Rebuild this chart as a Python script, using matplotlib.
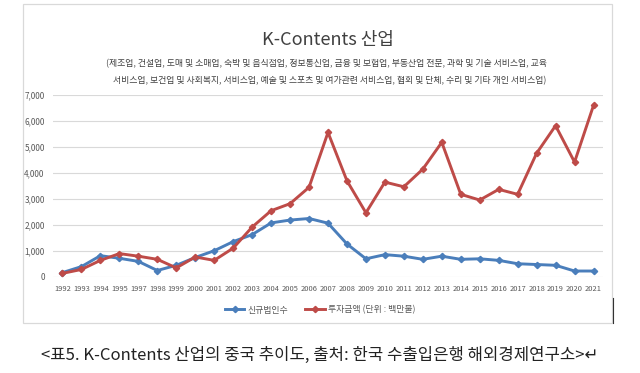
import matplotlib
matplotlib.use("Agg")
import matplotlib.pyplot as plt
from matplotlib.patches import Rectangle
from matplotlib.lines import Line2D
from matplotlib.ticker import FuncFormatter

plt.rcParams['font.family'] = ['Noto Sans CJK KR', 'DejaVu Sans']

years = ['1992', '1993', '1994', '1995', '1997', '1998', '1999', '2000', '2001', '2002',
         '2003', '2004', '2005', '2006', '2007', '2008', '2009', '2010', '2011', '2012',
         '2013', '2014', '2015', '2016', '2017', '2018', '2019', '2020', '2021']
new_corps = [170, 400, 820, 720, 600, 250, 450, 750, 1010, 1360,
             1630, 2080, 2190, 2250, 2070, 1270, 700, 860, 800, 680,
             800, 680, 700, 640, 510, 480, 450, 230, 230]
invest = [140, 290, 640, 900, 800, 680, 350, 770, 640, 1110,
          1920, 2550, 2820, 3450, 5560, 3700, 2470, 3650, 3470, 4150,
          5180, 3180, 2960, 3370, 3180, 4760, 5820, 4420, 6600]
series_names = ['신규법인수', '투자금액 (단위 : 백만불)']
title = 'K-Contents 산업'
subtitle1 = '(제조업, 건설업, 도매 및 소매업, 숙박 및 음식점업, 정보통신업, 금융 및 보험업, 부동산업 전문, 과학 및 기술 서비스업, 교육'
subtitle2 = '서비스업, 보건업 및 사회복지, 서비스업, 예술 및 스포츠 및 여가관련 서비스업, 협회 및 단체, 수리 및 기타 개인 서비스업)'
caption = '<표5. K-Contents 산업의 중국 추이도, 출처: 한국 수출입은행 해외경제연구소>'

W, H = 640, 373
fig = plt.figure(figsize=(W / 100, H / 100), dpi=100)
fig.patch.set_facecolor('white')

def fx(px):
    return px / W

def fy(py):
    return 1 - py / H

# chart border
fig.add_artist(Rectangle((fx(23), fy(323)), fx(612) - fx(23), fy(4) - fy(323),
                         transform=fig.transFigure, fill=False, edgecolor='#d9d9d9', linewidth=0.9))
# small editing mark
fig.add_artist(Line2D([fx(613), fx(613)], [fy(298), fy(323)], transform=fig.transFigure,
                      color='#333333', linewidth=0.8))

ax = fig.add_axes([fx(53), fy(277), fx(603) - fx(53), fy(95) - fy(277)])
x = list(range(len(years)))
blue = '#4a7ebb'
red = '#be4b48'
ax.plot(x, new_corps, color=blue, linewidth=2.1, marker='D', markersize=3.2, label=series_names[0])
ax.plot(x, invest, color=red, linewidth=2.1, marker='D', markersize=3.2, label=series_names[1])

ax.set_xlim(-0.5, len(years) - 0.5)
ax.set_ylim(0, 7000)
ax.set_yticks(range(0, 7001, 1000))
ax.yaxis.set_major_formatter(FuncFormatter(lambda v, p: f'{int(v):,}'))
ax.set_xticks(x)
ax.set_xticklabels(years)
ax.tick_params(axis='both', length=0, labelcolor='#595959')
ax.tick_params(axis='x', pad=6, labelsize=5.4)
ax.tick_params(axis='y', pad=6, labelsize=5.9)
ax.grid(axis='y', color='#d9d9d9', linewidth=0.8)
ax.set_axisbelow(True)
for s in ax.spines.values():
    s.set_visible(False)

leg = fig.legend(loc='center', bbox_to_anchor=(fx(320), fy(310)), ncol=2, frameon=False,
                 fontsize=6.4, handlelength=2.2, handletextpad=0.3, columnspacing=2.0,
                 labelcolor='#595959')

fig.text(fx(328), fy(40), title, ha='center', va='center', fontsize=13, color='#404040')
fig.text(fx(326), fy(64), subtitle1, ha='center', va='center', fontsize=6.4, color='#404040')
fig.text(fx(330), fy(81), subtitle2, ha='center', va='center', fontsize=6.4, color='#404040')
fig.text(fx(320), fy(355), caption + '↵', ha='center', va='center', fontsize=12, color='#222222')

fig.savefig('out.png', dpi=100)
